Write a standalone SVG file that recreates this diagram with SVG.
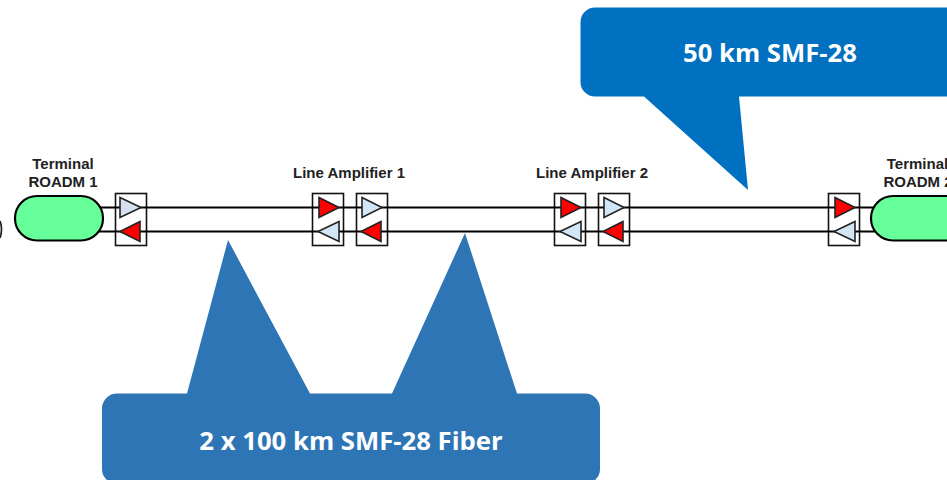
<svg xmlns="http://www.w3.org/2000/svg" width="947" height="480" viewBox="0 0 947 480">
<defs>
<style>
.box{fill:#fff;stroke:#111;stroke-width:1.6}
.line{stroke:#000;stroke-width:2.2;fill:none}
.roadm{fill:#66ff99;stroke:#000;stroke-width:2.2}
.r{fill:#ff0000;stroke:#222;stroke-width:1.6}
.b{fill:#d3e6f5;stroke:#222;stroke-width:1.6}
.g{fill:#d6e0f0;stroke:#222;stroke-width:1.6}
.lbl{font-family:"Liberation Sans",Arial,sans-serif;font-weight:700;font-size:15px;fill:#222;text-anchor:middle}
.call{font-family:"Open Sans","Noto Sans",sans-serif;font-weight:700;font-size:25.7px;fill:#fff;text-anchor:middle}
</style>
</defs>
<g id="left-edge"><path d="M0 221Q3 229 0 238" fill="none" stroke="#222" stroke-width="1.800"/></g>
<g id="amp-t1"><rect class="box" x="115.500" y="193.500" width="31" height="52"/></g>
<g id="line-amp-1a"><rect class="box" x="312.500" y="193.500" width="31" height="52"/></g>
<g id="line-amp-1b"><rect class="box" x="356.500" y="193.500" width="31" height="52"/></g>
<g id="line-amp-2a"><rect class="box" x="554.500" y="193.500" width="31" height="52"/></g>
<g id="line-amp-2b"><rect class="box" x="598.500" y="193.500" width="31" height="52"/></g>
<g id="amp-t2"><rect class="box" x="828.500" y="193.500" width="31" height="52"/></g>
<g id="connectors">
<path class="line" d="M90 207.500H880M90 231.500H880"/>
</g>
<g id="amplifiers">
<path class="g" d="M120 197.500L141 207.500L120 217.500Z"/><path class="r" d="M140 221.500L120 231.500L140 241.500Z"/>
<path class="r" d="M319 197.500L339 207.500L319 217.500Z"/><path class="b" d="M339 221.500L318 231.500L339 241.500Z"/>
<path class="b" d="M362 197.500L382 207.500L362 217.500Z"/><path class="r" d="M381 221.500L361 231.500L381 241.500Z"/>
<path class="r" d="M561 197.500L581 207.500L561 217.500Z"/><path class="b" d="M581 221.500L560 231.500L581 241.500Z"/>
<path class="b" d="M604 197.500L624 207.500L604 217.500Z"/><path class="r" d="M623 221.500L603 231.500L623 241.500Z"/>
<path class="r" d="M835 197.500L855 207.500L835 217.500Z"/><path class="b" d="M855 221.500L834 231.500L855 241.500Z"/>
</g>
<g id="roadm1"><rect class="roadm" x="15" y="196" width="88" height="44.500" rx="22"/>
<text class="lbl" x="63" y="169">Terminal</text><text class="lbl" x="63" y="187">ROADM 1</text></g>
<text class="lbl" x="349" y="178">Line Amplifier 1</text>
<text class="lbl" x="592" y="178">Line Amplifier 2</text>
<g id="roadm2"><rect class="roadm" x="871" y="196" width="110" height="44.500" rx="22"/>
<text class="lbl" x="917.500" y="169">Terminal</text><text class="lbl" x="918" y="187">ROADM 2</text></g>
<g id="callout-50km">
<path d="M595 7.500H960V96.500H739L748 190L644 96.500H595A14.500 14.500 0 0 1 580.500 82V22A14.500 14.500 0 0 1 595 7.500Z" fill="#0070c0"/>
<text class="call" x="770" y="62">50 km SMF-28</text></g>
<g id="callout-100km">
<path d="M117 393.500H187L228 240L310 393.500H392L465 233L517 393.500H585A15 15 0 0 1 600 408.500V469A15 15 0 0 1 585 484H117A15 15 0 0 1 102 469V408.500A15 15 0 0 1 117 393.500Z" fill="#2e75b6"/>
<text class="call" x="351" y="450">2 x 100 km SMF-28 Fiber</text></g>
</svg>
